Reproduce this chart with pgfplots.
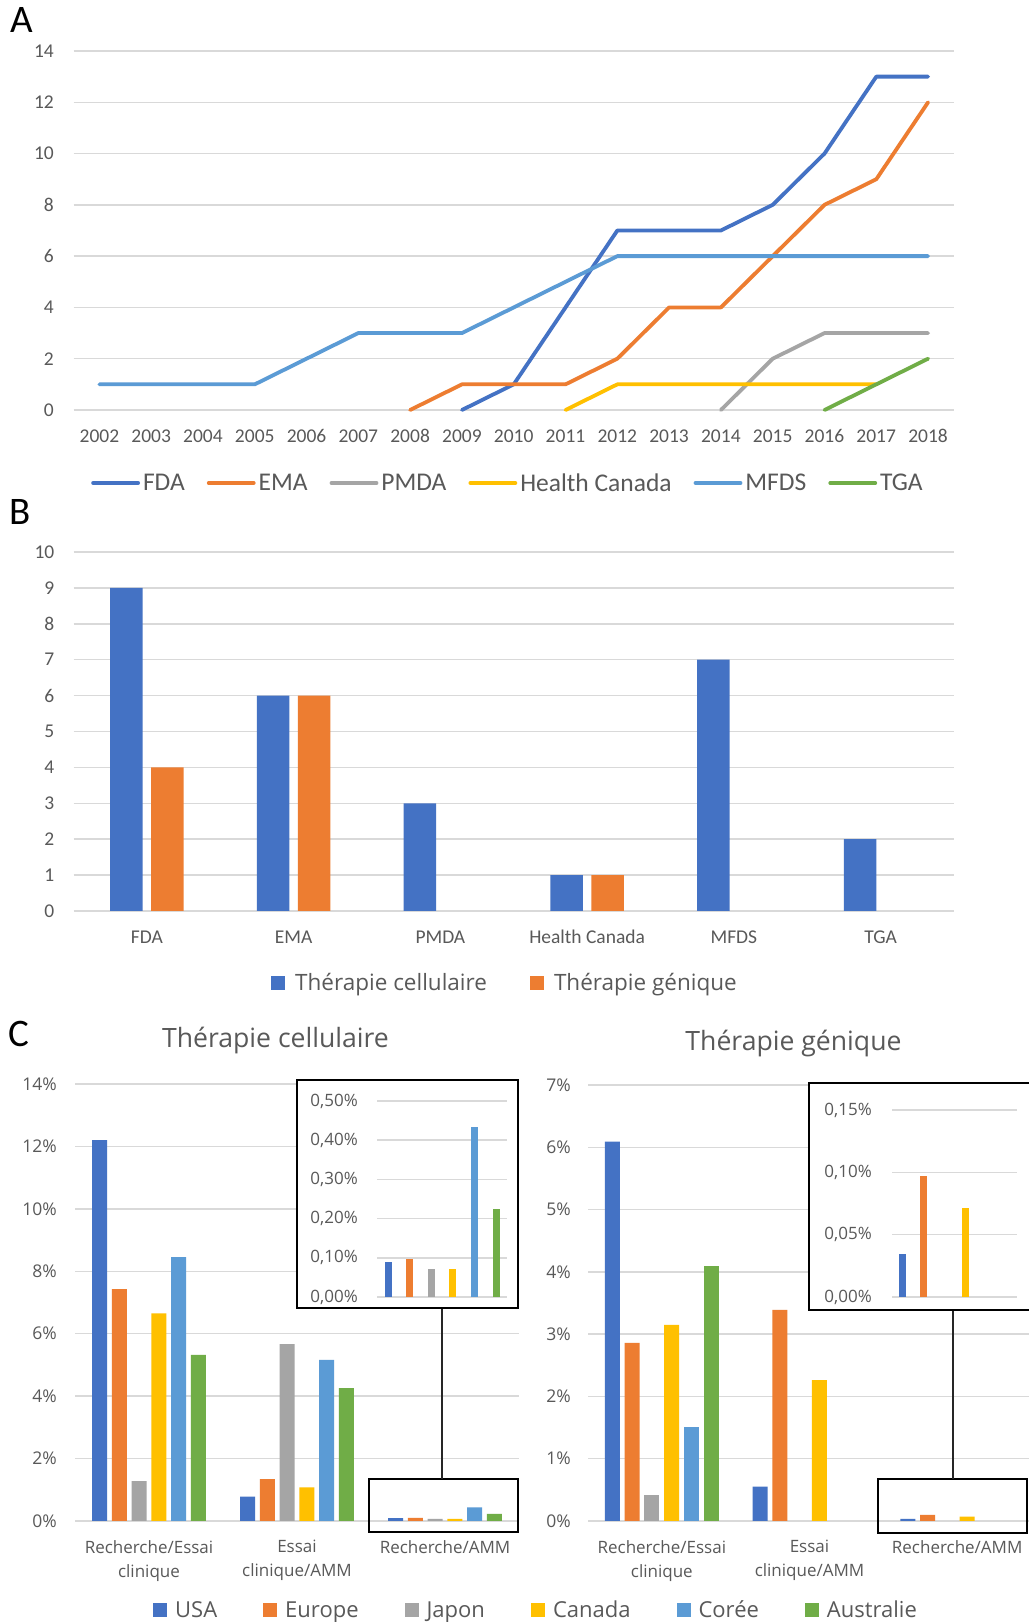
\documentclass[border=0pt]{standalone}
\usepackage{fontspec}
\setmainfont{Carlito}
\newfontfamily\osans{Open Sans}
\usepackage{pgfplots}
\pgfplotsset{compat=1.18}
\definecolor{cA}{HTML}{4472C4}
\definecolor{cB}{HTML}{ED7D31}
\definecolor{cC}{HTML}{A5A5A5}
\definecolor{cD}{HTML}{FFC000}
\definecolor{cE}{HTML}{5B9BD5}
\definecolor{cF}{HTML}{70AD47}
\definecolor{gridc}{HTML}{D9D9D9}
\definecolor{txt}{HTML}{595959}
\newcommand{\fs}[2]{\fontsize{#1pt}{#2pt}\selectfont}
\pgfplotsset{
  excel/.style={
    scale only axis,
    anchor=south west,
    axis line style={draw=none},
    major tick style={draw=none},
    minor tick style={draw=none},
    ymajorgrids,
    major grid style={gridc, line width=1.5pt},
    /pgf/number format/assume math mode=true,
    /pgf/number format/1000 sep={},
    tick label style={text=txt, inner sep=0pt},
    clip=false,
  },
  sqlegend/.style={
    legend image code/.code={\fill[##1, draw=none] (0pt,-7pt) rectangle (14pt,7pt);},
  },
}
\begin{document}
\begin{tikzpicture}
\useasboundingbox (0pt,0pt) rectangle (1028pt,1622pt);
\fill[white] (0pt,0pt) rectangle (1028pt,1622pt);

% ---------------- Panel A ----------------
\begin{axis}[excel,
  at={(73.5pt,1212pt)}, width=880.5pt, height=359pt,
  xmin=2001.5, xmax=2018.5, ymin=0, ymax=14,
  xtick={2002,...,2018}, ytick={0,2,...,14},
  xticklabel style={anchor=base, yshift=-32.7pt, font=\fs{19.5}{23}},
  yticklabel style={anchor=east, xshift=-19.5pt, font=\fs{19.5}{23}},
  legend columns=6,
  legend image code/.code={\draw[#1, line width=3.8pt, line cap=round] (0pt,0pt) -- (45pt,0pt);},
  legend style={at={(axis description cs:0.0199,-0.2033)}, anchor=west, draw=none, fill=none,
    inner sep=0pt, font=\fs{25.5}{30}, text=txt, cells={anchor=west}, nodes={inner sep=0pt},
    /tikz/every odd column/.append style={column sep=3pt},
    /tikz/every even column/.append style={column sep=22pt}},
]
\addplot[cA, line width=3.8pt, mark=none, line join=round, line cap=round] coordinates {
(2009,0)(2010,1)(2011,4)(2012,7)(2013,7)(2014,7)(2015,8)(2016,10)(2017,13)(2018,13)};
\addplot[cB, line width=3.8pt, mark=none, line join=round, line cap=round] coordinates {
(2008,0)(2009,1)(2010,1)(2011,1)(2012,2)(2013,4)(2014,4)(2015,6)(2016,8)(2017,9)(2018,12)};
\addplot[cC, line width=3.8pt, mark=none, line join=round, line cap=round] coordinates {
(2014,0)(2015,2)(2016,3)(2017,3)(2018,3)};
\addplot[cD, line width=3.8pt, mark=none, line join=round, line cap=round] coordinates {
(2011,0)(2012,1)(2013,1)(2014,1)(2015,1)(2016,1)(2017,1)};
\addplot[cE, line width=3.8pt, mark=none, line join=round, line cap=round] coordinates {
(2002,1)(2003,1)(2004,1)(2005,1)(2006,2)(2007,3)(2008,3)(2009,3)(2010,4)(2011,5)(2012,6)(2013,6)(2014,6)(2015,6)(2016,6)(2017,6)(2018,6)};
\addplot[cF, line width=3.8pt, mark=none, line join=round, line cap=round] coordinates {
(2016,0)(2017,1)(2018,2)};
\legend{FDA,EMA,PMDA,Health Canada,MFDS,TGA}
\end{axis}

% ---------------- Panel B ----------------
\begin{axis}[excel,
  at={(73.5pt,711pt)}, width=880.5pt, height=359pt,
  ybar=8.5pt, bar width=32.5pt,
  xmin=-0.5, xmax=5.5, ymin=0, ymax=10,
  xtick={0,...,5}, xticklabels={FDA,EMA,PMDA,Health Canada,MFDS,TGA},
  ytick={0,...,10},
  xticklabel style={anchor=base, yshift=-28.7pt, font=\fs{19.5}{23}},
  yticklabel style={anchor=east, xshift=-19pt, font=\fs{19.5}{23}},
  sqlegend,
  legend columns=2,
  legend style={at={(axis description cs:0.2243,-0.2006)}, anchor=west, draw=none, fill=none,
    inner sep=0pt, font=\osans\fs{22.5}{27}, text=txt, cells={anchor=west}, nodes={inner sep=0pt},
    /tikz/every odd column/.append style={column sep=10pt},
    /tikz/every even column/.append style={column sep=43pt}},
]
\addplot[fill=cA, draw=none] coordinates {(0,9)(1,6)(2,3)(3,1)(4,7)(5,2)};
\addplot[fill=cB, draw=none] coordinates {(0,4)(1,6)(3,1)};
\legend{Thérapie cellulaire, Thérapie génique}
\end{axis}

% ---------------- Panel C left ----------------
\begin{axis}[excel,
  at={(75pt,101pt)}, width=444pt, height=437pt,
  ybar=4.75pt, bar width=15pt,
  xmin=-0.5, xmax=2.5, ymin=0, ymax=14,
  xtick={0,1,2}, xticklabels={{Recherche/Essai\\clinique},{Essai\\clinique/AMM},{Recherche/AMM}},
  ytick={0,2,...,14}, yticklabels={0\%,2\%,4\%,6\%,8\%,10\%,12\%,14\%},
  xticklabel style={anchor=north, yshift=-15pt, align=center, font=\osans\fs{17}{24}},
  yticklabel style={anchor=east, xshift=-18pt, font=\osans\fs{17.5}{21}},
  sqlegend,
  legend columns=6,
  legend style={at={(axis description cs:0.1757,-0.2037)}, anchor=west, draw=none, fill=none,
    inner sep=0pt, font=\osans\fs{22}{26}, text=txt, cells={anchor=west}, nodes={inner sep=0pt},
    /tikz/every odd column/.append style={column sep=8pt},
    /tikz/every even column/.append style={column sep=46pt}},
]
\addplot[fill=cA, draw=none] coordinates {(0,12.2)(1,0.78)(2,0.090)};
\addplot[fill=cB, draw=none] coordinates {(0,7.43)(1,1.34)(2,0.097)};
\addplot[fill=cC, draw=none] coordinates {(0,1.28)(1,5.67)(2,0.071)};
\addplot[fill=cD, draw=none] coordinates {(0,6.65)(1,1.08)(2,0.071)};
\addplot[fill=cE, draw=none] coordinates {(0,8.45)(1,5.16)(2,0.433)};
\addplot[fill=cF, draw=none] coordinates {(0,5.32)(1,4.26)(2,0.225)};
\legend{USA,Europe,Japon,Canada,Corée,Australie}
\end{axis}
\draw[line width=2pt] (369pt,90pt) rectangle (518pt,143pt);
\draw[line width=1.3pt, black!85] (442pt,143pt) -- (442pt,314pt);
\draw[line width=2pt, fill=white] (297pt,314pt) rectangle (518pt,542pt);
\begin{axis}[excel,
  at={(377pt,325pt)}, width=130pt, height=196pt,
  ybar=14.6pt, bar width=7pt,
  xmin=-0.5, xmax=0.5, ymin=0, ymax=0.5,
  xtick=\empty,
  ytick={0,0.1,0.2,0.3,0.4,0.5}, yticklabels={{0,00\%},{0,10\%},{0,20\%},{0,30\%},{0,40\%},{0,50\%}},
  yticklabel style={anchor=east, xshift=-19pt, font=\osans\fs{17}{21}},
]
\addplot[fill=cA, draw=none] coordinates {(0,0.090)};
\addplot[fill=cB, draw=none] coordinates {(0,0.097)};
\addplot[fill=cC, draw=none] coordinates {(0,0.071)};
\addplot[fill=cD, draw=none] coordinates {(0,0.071)};
\addplot[fill=cE, draw=none] coordinates {(0,0.433)};
\addplot[fill=cF, draw=none] coordinates {(0,0.225)};
\end{axis}

% ---------------- Panel C right ----------------
\begin{axis}[excel,
  at={(588pt,101pt)}, width=443pt, height=436pt,
  ybar=4.75pt, bar width=15pt,
  xmin=-0.5, xmax=2.5, ymin=0, ymax=7,
  xtick={0,1,2}, xticklabels={{Recherche/Essai\\clinique},{Essai\\clinique/AMM},{Recherche/AMM}},
  ytick={0,...,7}, yticklabels={0\%,1\%,2\%,3\%,4\%,5\%,6\%,7\%},
  xticklabel style={anchor=north, yshift=-15pt, align=center, font=\osans\fs{17}{24}},
  yticklabel style={anchor=east, xshift=-17pt, font=\osans\fs{17.5}{21}},
]
\addplot[fill=cA, draw=none] coordinates {(0,6.09)(1,0.55)(2,0.0345)};
\addplot[fill=cB, draw=none] coordinates {(0,2.86)(1,3.39)(2,0.097)};
\addplot[fill=cC, draw=none] coordinates {(0,0.41)};
\addplot[fill=cD, draw=none] coordinates {(0,3.15)(1,2.26)(2,0.0714)};
\addplot[fill=cE, draw=none] coordinates {(0,1.51)};
\addplot[fill=cF, draw=none] coordinates {(0,4.10)};
\end{axis}
\draw[line width=2pt] (878pt,89pt) rectangle (1027pt,143pt);
\draw[line width=1.3pt, black!85] (953pt,143pt) -- (953pt,312pt);
\draw[line width=2pt, fill=white] (809pt,312pt) rectangle (1040pt,539pt);
\begin{axis}[excel,
  at={(892pt,325pt)}, width=125pt, height=187pt,
  ybar=14pt, bar width=7pt,
  xmin=-0.5, xmax=0.5, ymin=0, ymax=0.15,
  xtick=\empty,
  ytick={0,0.05,0.1,0.15}, yticklabels={{0,00\%},{0,05\%},{0,10\%},{0,15\%}},
  yticklabel style={anchor=east, xshift=-20pt, font=\osans\fs{17}{21}},
]
\addplot[fill=cA, draw=none, bar shift=-52.5pt] coordinates {(0,0.0345)};
\addplot[fill=cB, draw=none, bar shift=-31.5pt] coordinates {(0,0.0971)};
\addplot[fill=cD, draw=none, bar shift=10.5pt] coordinates {(0,0.0714)};
\end{axis}

% titles and panel letters
\node[anchor=base, text=txt, font=\osans\fs{26.6}{32}, inner sep=0pt] at (275.5pt,574pt) {Thérapie cellulaire};
\node[anchor=base, text=txt, font=\osans\fs{26.6}{32}, inner sep=0pt] at (793.5pt,571pt) {Thérapie génique};
\node[anchor=base west, font=\fs{39}{45}, inner sep=0pt] at (10pt,1589pt) {A};
\node[anchor=base west, font=\fs{39}{45}, inner sep=0pt] at (9.5pt,1097pt) {B};
\node[anchor=base west, font=\fs{39}{45}, inner sep=0pt] at (8pt,575pt) {C};
\end{tikzpicture}
\end{document}
